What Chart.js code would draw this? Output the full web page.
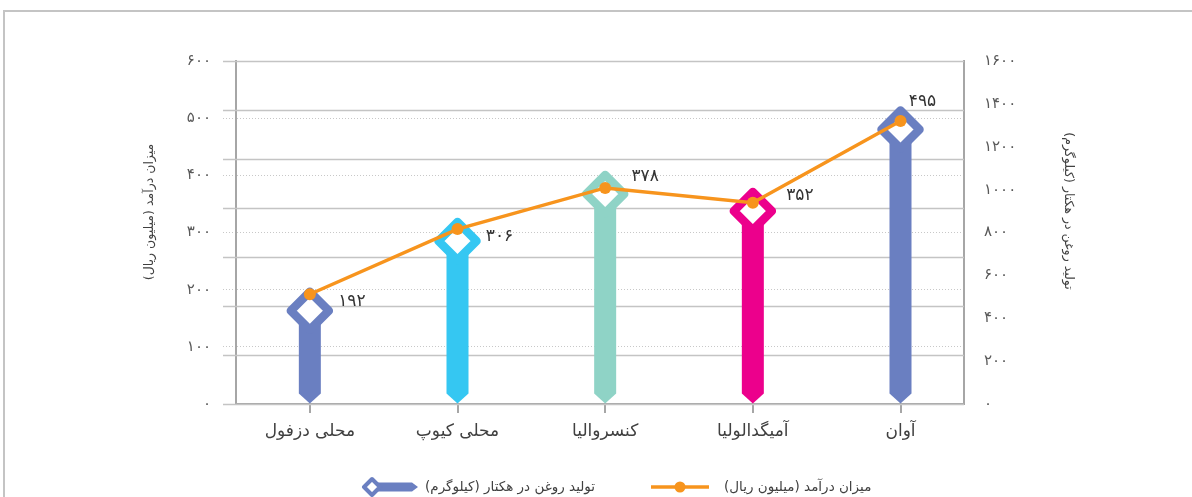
<!DOCTYPE html>
<html><head><meta charset="utf-8">
<script src="https://cdn.jsdelivr.net/npm/chart.js@4/dist/chart.umd.min.js"></script>
<style>html,body{margin:0;padding:0;background:#fff;overflow:hidden}#wrap{width:1192px;height:497px;position:relative}</style>
</head><body>
<div id="wrap"><canvas id="c" dir="rtl" width="1192" height="497"></canvas></div>
<script>
const categories = ['محلی دزفول', 'محلی کیوپ', 'کنسروالیا', 'آمیگدالولیا', 'آوان'];
const income = [192, 306, 378, 352, 495];
const oilYield = [435, 760, 980, 900, 1280];
const leftTicks = [0, 100, 200, 300, 400, 500, 600];
const rightTicks = [0, 200, 400, 600, 800, 1000, 1200, 1400, 1600];
const incomeLabel = 'میزان درآمد (میلیون ریال)';
const yieldLabel = 'تولید روغن در هکتار (کیلوگرم)';

const barColors = ['#6a7fc1', '#35c7f2', '#8fd3c6', '#ec008c', '#6a7fc1'];
const lineColor = '#f7941d';
const labelOffsets = [[42, 7], [42, 8], [40, -11], [47, -7], [22, -19]];
const FONT = 'DejaVu Sans';
const toFa = n => String(n).replace(/\d/g, d => '۰۱۲۳۴۵۶۷۸۹'[d]);

const shapes = {
  id: 'shapes',
  beforeDatasetsDraw(chart) {
    const ctx = chart.ctx, ca = chart.chartArea, ys = chart.scales.y;
    ctx.save();
    ctx.strokeStyle = '#c4c4c4';
    ctx.lineWidth = 1.5;
    const max = leftTicks[leftTicks.length - 1];
    for (let k = 0; k <= 7; k++) {
      const py = Math.round(ys.getPixelForValue(max * k / 7)) + 0.5;
      ctx.beginPath(); ctx.moveTo(ca.left - 13, py); ctx.lineTo(ca.right, py); ctx.stroke();
    }
    ctx.restore();
  },
  afterDatasetDraw(chart, args) {
    if (args.index !== 1) return;
    const ctx = chart.ctx;
    args.meta.data.forEach((el, i) => {
      const x = el.x, y = el.y, base = el.base, c = barColors[i];
      ctx.save();
      ctx.fillStyle = c; ctx.strokeStyle = c;
      const hw = 11;
      ctx.beginPath();
      ctx.moveTo(x - hw, y); ctx.lineTo(x + hw, y); ctx.lineTo(x + hw, base - 10);
      ctx.lineTo(x, base); ctx.lineTo(x - hw, base - 10); ctx.closePath(); ctx.fill();
      const r = 19;
      ctx.lineWidth = 8.5; ctx.lineJoin = 'round';
      ctx.beginPath();
      ctx.moveTo(x, y - r); ctx.lineTo(x + r, y); ctx.lineTo(x, y + r); ctx.lineTo(x - r, y); ctx.closePath();
      ctx.fillStyle = '#fff'; ctx.fill(); ctx.stroke();
      ctx.restore();
    });
  },
  afterDatasetsDraw(chart) {
    const ctx = chart.ctx;
    const meta = chart.getDatasetMeta(0);
    ctx.save();
    ctx.fillStyle = '#333';
    ctx.font = '17px "' + FONT + '"';
    ctx.textAlign = 'center'; ctx.textBaseline = 'middle';
    meta.data.forEach((pt, i) => {
      ctx.fillText(toFa(income[i]), pt.x + labelOffsets[i][0], pt.y + labelOffsets[i][1]);
    });
    ctx.restore();
  },
  afterDraw(chart) {
    const ctx = chart.ctx;
    ctx.save();
    ctx.strokeStyle = '#c4c4c4'; ctx.lineWidth = 2;
    ctx.beginPath(); ctx.moveTo(4, 500); ctx.lineTo(4, 11); ctx.lineTo(1192, 11); ctx.stroke();
    ctx.fillStyle = '#404040';
    ctx.font = '12.5px "' + FONT + '"';
    ctx.direction = 'rtl';
    ctx.textAlign = 'center'; ctx.textBaseline = 'middle';
    ctx.save(); ctx.translate(150, 212); ctx.rotate(-Math.PI / 2); ctx.fillText(incomeLabel, 0, 0); ctx.restore();
    ctx.save(); ctx.translate(1068, 211); ctx.rotate(Math.PI / 2); ctx.fillText(yieldLabel, 0, 0); ctx.restore();
    const LY = 487;
    const bc = barColors[0];
    ctx.fillStyle = bc; ctx.strokeStyle = bc;
    ctx.beginPath();
    ctx.moveTo(378, LY - 4.5); ctx.lineTo(412, LY - 4.5); ctx.lineTo(418, LY); ctx.lineTo(412, LY + 4.5); ctx.lineTo(378, LY + 4.5); ctx.closePath(); ctx.fill();
    ctx.lineWidth = 4; ctx.lineJoin = 'round';
    const r = 8, cx = 372;
    ctx.beginPath(); ctx.moveTo(cx, LY - r); ctx.lineTo(cx + r, LY); ctx.lineTo(cx, LY + r); ctx.lineTo(cx - r, LY); ctx.closePath();
    ctx.fillStyle = '#fff'; ctx.fill(); ctx.stroke();
    ctx.strokeStyle = lineColor; ctx.fillStyle = lineColor; ctx.lineWidth = 3.5;
    ctx.beginPath(); ctx.moveTo(651, LY); ctx.lineTo(709, LY); ctx.stroke();
    ctx.beginPath(); ctx.arc(680, LY, 5.5, 0, Math.PI * 2); ctx.fill();
    ctx.fillStyle = '#404040';
    ctx.font = '13.5px "' + FONT + '"';
    ctx.textAlign = 'left';
    ctx.fillText(yieldLabel, 425, LY);
    ctx.fillText(incomeLabel, 724, LY);
    ctx.restore();
  }
};

new Chart(document.getElementById('c'), {
  type: 'line',
  data: {
    datasets: [
      {
        type: 'line', label: incomeLabel,
        data: income.map((v, i) => ({ x: i, y: v })),
        xAxisID: 'x', yAxisID: 'y',
        borderColor: lineColor, backgroundColor: lineColor, borderWidth: 3.5,
        pointRadius: 6, pointHoverRadius: 6, pointBorderWidth: 0,
        pointBackgroundColor: lineColor, tension: 0, order: 0
      },
      {
        type: 'bar', label: yieldLabel,
        data: oilYield.map((v, i) => ({ x: i, y: v })),
        xAxisID: 'x', yAxisID: 'y1',
        backgroundColor: 'rgba(0,0,0,0)', borderWidth: 0, barThickness: 22, order: 1
      }
    ]
  },
  options: {
    responsive: false, animation: false, devicePixelRatio: 1,
    layout: { padding: { top: 61, left: 0, right: 0, bottom: 0 } },
    plugins: { legend: { display: false }, tooltip: { enabled: false } },
    events: [],
    scales: {
      x: {
        type: 'linear', min: -0.5, max: 4.43, offset: false,
        afterBuildTicks: s => { s.ticks = categories.map((c, i) => ({ value: i })); },
        ticks: { callback: v => categories[v], color: '#404040', font: { family: FONT, size: 17 }, padding: 8, autoSkip: false, maxRotation: 0 },
        grid: { offset: false, drawOnChartArea: false, drawTicks: true, tickLength: 9, color: '#a6a6a6', lineWidth: 2 },
        border: { color: '#a6a6a6', width: 2 },
        afterFit: s => { s.height = 93; }
      },
      y: {
        position: 'left', min: 0, max: 600,
        afterBuildTicks: s => { s.ticks = leftTicks.map(v => ({ value: v })); },
        ticks: { callback: v => toFa(v), color: '#595959', font: { family: FONT, size: 15 }, padding: 12 },
        grid: { color: '#c8c8c8', lineWidth: 1, tickLength: 13, tickBorderDash: [1, 2] },
        border: { color: '#a6a6a6', width: 2, dash: [1, 2] },
        afterFit: s => { s.width = 236; }
      },
      y1: {
        position: 'right', min: 0, max: 1600,
        afterBuildTicks: s => { s.ticks = rightTicks.map(v => ({ value: v })); },
        ticks: { callback: v => toFa(v), color: '#595959', font: { family: FONT, size: 15 }, padding: 20 },
        grid: { drawOnChartArea: false, drawTicks: false },
        border: { color: '#a6a6a6', width: 2 },
        afterFit: s => { s.width = 228; }
      }
    }
  },
  plugins: [shapes]
});
</script>
</body></html>
